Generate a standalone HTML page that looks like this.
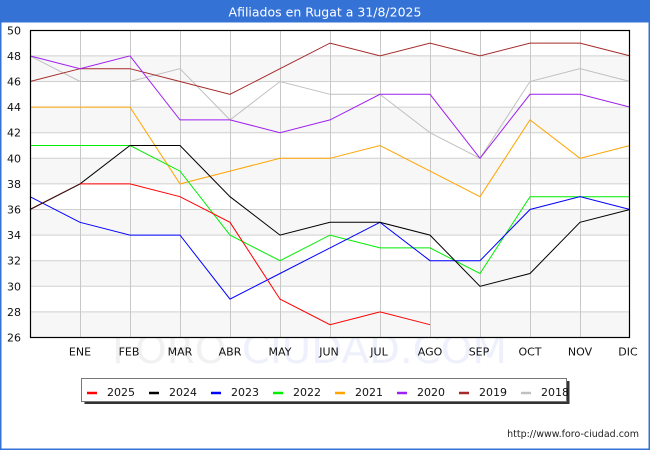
<!DOCTYPE html>
<html><head><meta charset="utf-8"><style>
html,body{margin:0;padding:0;background:#fff;}
svg{display:block;font-family:"DejaVu Sans","Liberation Sans",sans-serif;}
</style></head><body>
<svg width="650" height="450" viewBox="0 0 650 450" xmlns="http://www.w3.org/2000/svg">
<rect x="0" y="0" width="650" height="450" fill="#fff"/>
<rect x="0" y="0" width="650" height="22.5" fill="#3572d6"/>
<rect x="0" y="0" width="1.5" height="450" fill="#3572d6"/>
<rect x="648.5" y="0" width="1.5" height="450" fill="#3572d6"/>
<rect x="0" y="448.5" width="650" height="1.5" fill="#3572d6"/>
<text x="325" y="16.5" fill="#fff" font-size="12.5" text-anchor="middle">Afiliados en Rugat a 31/8/2025</text>

<!-- watermark -->
<text x="112" y="363" font-size="39" fill="#f1f1f1" textLength="395" lengthAdjust="spacingAndGlyphs">FORO-<tspan fill="#eef0fc">CIUDAD.COM</tspan></text>

<!-- bands -->
<g fill="#f7f7f7">
<rect x="30" y="311.9" width="600" height="25.6"/>
<rect x="30" y="260.7" width="600" height="25.6"/>
<rect x="30" y="209.5" width="600" height="25.6"/>
<rect x="30" y="158.3" width="600" height="25.6"/>
<rect x="30" y="107.1" width="600" height="25.6"/>
<rect x="30" y="55.9" width="600" height="25.6"/>
</g>
<!-- grid -->
<g stroke="#d0d0d0" stroke-width="1">
<line x1="30" x2="630" y1="311.9" y2="311.9"/>
<line x1="30" x2="630" y1="286.3" y2="286.3"/>
<line x1="30" x2="630" y1="260.7" y2="260.7"/>
<line x1="30" x2="630" y1="235.1" y2="235.1"/>
<line x1="30" x2="630" y1="209.5" y2="209.5"/>
<line x1="30" x2="630" y1="183.9" y2="183.9"/>
<line x1="30" x2="630" y1="158.3" y2="158.3"/>
<line x1="30" x2="630" y1="132.7" y2="132.7"/>
<line x1="30" x2="630" y1="107.1" y2="107.1"/>
<line x1="30" x2="630" y1="81.5" y2="81.5"/>
<line x1="30" x2="630" y1="55.9" y2="55.9"/>
</g>
<g stroke="#c8c8c8" stroke-width="1">
<line x1="80.5" x2="80.5" y1="30" y2="337.5"/>
<line x1="130.5" x2="130.5" y1="30" y2="337.5"/>
<line x1="180.5" x2="180.5" y1="30" y2="337.5"/>
<line x1="230.5" x2="230.5" y1="30" y2="337.5"/>
<line x1="280.5" x2="280.5" y1="30" y2="337.5"/>
<line x1="330.5" x2="330.5" y1="30" y2="337.5"/>
<line x1="380.5" x2="380.5" y1="30" y2="337.5"/>
<line x1="430.5" x2="430.5" y1="30" y2="337.5"/>
<line x1="480.5" x2="480.5" y1="30" y2="337.5"/>
<line x1="530.5" x2="530.5" y1="30" y2="337.5"/>
<line x1="580.5" x2="580.5" y1="30" y2="337.5"/>
</g>

<!-- series: y(v)=337.5-(v-26)*12.8 -->
<g fill="none" stroke-width="1">
<!-- 2018 gray: 48,46,46,47,43,46,45,45,42,40,46,47,46 -->
<polyline stroke="#c0c0c0" points="30,55.9 80,81.5 130,81.5 180,68.7 230,119.9 280,81.5 330,94.3 380,94.3 430,132.7 480,158.3 530,81.5 580,68.7 630,81.5"/>
<!-- 2019 brown: 46,47,47,46,45,47,49,48,49,48,49,49,48 -->
<polyline stroke="#a52a2a" points="30,81.5 80,68.7 130,68.7 180,81.5 230,94.3 280,68.7 330,43.1 380,55.9 430,43.1 480,55.9 530,43.1 580,43.1 630,55.9"/>
<!-- 2020 purple: 48,47,48,43,43,42,43,45,45,40,45,45,44 -->
<polyline stroke="#a020f0" points="30,55.9 80,68.7 130,55.9 180,119.9 230,119.9 280,132.7 330,119.9 380,94.3 430,94.3 480,158.3 530,94.3 580,94.3 630,107.1"/>
<!-- 2021 orange: 44,44,44,38,39,40,40,41,39,37,43,40,41 -->
<polyline stroke="#ffa500" points="30,107.1 80,107.1 130,107.1 180,183.9 230,171.1 280,158.3 330,158.3 380,145.5 430,171.1 480,196.7 530,119.9 580,158.3 630,145.5"/>
<!-- 2022 green: 41,41,41,39,34,32,34,33,33,31,37,37,37 -->
<polyline stroke="#00ee00" points="30,145.5 80,145.5 130,145.5 180,171.1 230,235.1 280,260.7 330,235.1 380,247.9 430,247.9 480,273.5 530,196.7 580,196.7 630,196.7"/>
<!-- 2023 blue: 37,35,34,34,29,31,33,35,32,32,36,37,36 -->
<polyline stroke="#0000ff" points="30,196.7 80,222.3 130,235.1 180,235.1 230,299.1 280,273.5 330,247.9 380,222.3 430,260.7 480,260.7 530,209.5 580,196.7 630,209.5"/>
<!-- 2024 black: 36,38,41,41,37,34,35,35,34,30,31,35,36 -->
<polyline stroke="#000000" points="30,209.5 80,183.9 130,145.5 180,145.5 230,196.7 280,235.1 330,222.3 380,222.3 430,235.1 480,286.3 530,273.5 580,222.3 630,209.5"/>
<!-- 2025 red: 36,38,38,37,35,29,27,28,27 -->
<polyline stroke="#ff0000" points="80,183.9 130,183.9 180,196.7 230,222.3 280,299.1 330,324.7 380,311.9 430,324.7"/>
<polyline stroke="#4a1010" points="30,209.5 80,183.9"/>
</g>

<!-- axes frame -->
<rect x="30.5" y="30.5" width="599" height="307" fill="none" stroke="#000" stroke-width="1.2"/>

<!-- y labels -->
<g font-size="11" fill="#111" text-anchor="end">
<text x="21" y="341.5">26</text>
<text x="21" y="315.9">28</text>
<text x="21" y="290.3">30</text>
<text x="21" y="264.7">32</text>
<text x="21" y="239.1">34</text>
<text x="21" y="213.5">36</text>
<text x="21" y="187.9">38</text>
<text x="21" y="162.3">40</text>
<text x="21" y="136.7">42</text>
<text x="21" y="111.1">44</text>
<text x="21" y="85.5">46</text>
<text x="21" y="59.9">48</text>
<text x="21" y="34.3">50</text>
</g>
<!-- x labels -->
<g font-size="11" fill="#111" text-anchor="middle">
<text x="80" y="355.5">ENE</text>
<text x="129" y="355.5">FEB</text>
<text x="180" y="355.5">MAR</text>
<text x="230" y="355.5">ABR</text>
<text x="280" y="355.5">MAY</text>
<text x="329" y="355.5">JUN</text>
<text x="379" y="355.5">JUL</text>
<text x="430" y="355.5">AGO</text>
<text x="479" y="355.5">SEP</text>
<text x="530" y="355.5">OCT</text>
<text x="580" y="355.5">NOV</text>
<text x="628" y="355.5">DIC</text>
</g>

<!-- legend -->
<rect x="84.5" y="381" width="485" height="23" fill="#333"/>
<rect x="81.5" y="378.5" width="485" height="23" fill="#fff" stroke="#777" stroke-width="1"/>
<g stroke-width="2.5">
<line x1="87" x2="97" y1="393" y2="393" stroke="#ff0000"/>
<line x1="149" x2="159" y1="393" y2="393" stroke="#000"/>
<line x1="211" x2="221" y1="393" y2="393" stroke="#0000ff"/>
<line x1="273" x2="283" y1="393" y2="393" stroke="#00ee00"/>
<line x1="335" x2="345" y1="393" y2="393" stroke="#ffa500"/>
<line x1="397" x2="407" y1="393" y2="393" stroke="#a020f0"/>
<line x1="459" x2="469" y1="393" y2="393" stroke="#a52a2a"/>
<line x1="521" x2="531" y1="393" y2="393" stroke="#c0c0c0"/>
</g>
<g font-size="11" fill="#111">
<text x="107" y="396">2025</text>
<text x="169" y="396">2024</text>
<text x="231" y="396">2023</text>
<text x="293" y="396">2022</text>
<text x="355" y="396">2021</text>
<text x="417" y="396">2020</text>
<text x="479" y="396">2019</text>
<text x="541" y="396">2018</text>
</g>

<text x="639" y="437" font-size="9.5" fill="#222" text-anchor="end">http://www.foro-ciudad.com</text>
</svg>
</body></html>
